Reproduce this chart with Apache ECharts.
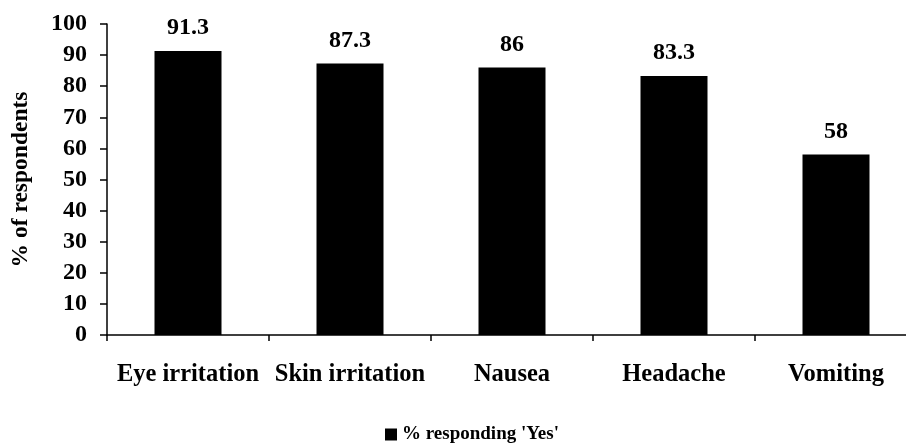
<!DOCTYPE html>
<html>
<head>
<meta charset="utf-8">
<script src="https://cdn.jsdelivr.net/npm/echarts@6/dist/echarts.min.js"></script>
<style>html,body{margin:0;padding:0;background:#fff;overflow:hidden;}#wrap{width:906px;height:446px;overflow:hidden;}#c{width:920px;height:446px;}</style>
</head>
<body>
<div id="wrap"><div id="c"></div></div>
<script>
const categories = ['Eye irritation', 'Skin irritation', 'Nausea', 'Headache', 'Vomiting'];
const yesValues = [91.3, 87.3, 86, 83.3, 58];
const seriesName = "% responding 'Yes'";
const yAxisName = '% of respondents';

const FONT = "'Liberation Serif', 'Times New Roman', serif";
const chart = echarts.init(document.getElementById('c'), null, {renderer: 'canvas'});
chart.setOption({
  backgroundColor: '#ffffff',
  animation: false,
  textStyle: {fontFamily: FONT, fontWeight: 'bold', color: '#000'},
  grid: {left: 107, right: 3, top: 24, bottom: 111, containLabel: false, outerBoundsMode: 'none'},
  legend: {
    data: [seriesName],
    left: 380, top: 420,
    itemWidth: 12, itemHeight: 12, itemGap: 4,
    icon: 'rect',
    textStyle: {fontFamily: FONT, fontWeight: 'bold', fontSize: 19, color: '#000'}
  },
  xAxis: {
    type: 'category',
    data: categories,
    axisLine: {lineStyle: {color: '#000', width: 1.5}},
    axisTick: {show: true, alignWithLabel: false, length: 6, lineStyle: {color: '#000', width: 1.5}},
    axisLabel: {fontFamily: FONT, fontWeight: 'bold', fontSize: 24.5, color: '#000', margin: 27, interval: 0}
  },
  yAxis: {
    type: 'value',
    min: 0, max: 100, interval: 10,
    name: yAxisName,
    nameLocation: 'middle',
    nameGap: 74,
    nameRotate: 90,
    nameTextStyle: {fontFamily: FONT, fontWeight: 'bold', fontSize: 23.5, color: '#000'},
    axisLine: {show: true, lineStyle: {color: '#000', width: 1.5}},
    axisTick: {show: true, length: 7, lineStyle: {color: '#000', width: 1.5}},
    axisLabel: {fontFamily: FONT, fontWeight: 'bold', fontSize: 24, color: '#000', margin: 20},
    splitLine: {show: false}
  },
  series: [{
    name: seriesName,
    type: 'bar',
    data: yesValues,
    barWidth: 67,
    itemStyle: {color: '#000'},
    label: {show: true, position: 'top', distance: 11, fontFamily: FONT, fontWeight: 'bold', fontSize: 24, color: '#000'}
  }]
});
</script>
</body>
</html>
